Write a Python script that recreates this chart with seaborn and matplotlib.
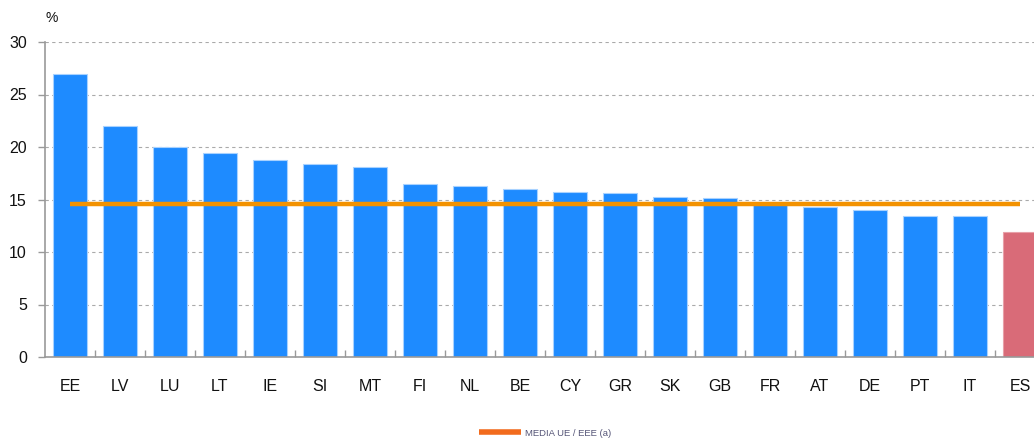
import matplotlib
matplotlib.use("Agg")
import matplotlib.pyplot as plt
import seaborn as sns
import pandas as pd
import numpy as np
from matplotlib.lines import Line2D

countries = ["EE", "LV", "LU", "LT", "IE", "SI", "MT", "FI", "NL", "BE",
             "CY", "GR", "SK", "GB", "FR", "AT", "DE", "PT", "IT", "ES"]
values = [27.0, 22.0, 20.0, 19.4, 18.8, 18.4, 18.1, 16.5, 16.3, 16.0,
          15.7, 15.6, 15.2, 15.1, 14.7, 14.3, 14.0, 13.4, 13.4, 11.9]
median_value = 14.6
legend_label = "MEDIA UE / EEE (a)"
y_ticks = [0, 5, 10, 15, 20, 25, 30]

blue = "#1E8BFF"
red = "#D96B78"
colors = [red if c == "ES" else blue for c in countries]
edges = ["#E8A0A8" if c == "ES" else "#A8D2FF" for c in countries]

sns.set_style("white")
plt.rcParams["font.family"] = ["Liberation Sans", "DejaVu Sans"]

df = pd.DataFrame({"country": countries, "value": values})

W, H = 1034, 441
fig = plt.figure(figsize=(W / 100, H / 100), dpi=100)
ax = fig.add_axes([45 / W, (H - 357) / H, (1045 - 45) / W, (357 - 42) / H])

sns.barplot(data=df, x="country", y="value", hue="country", palette=colors,
            legend=False, width=0.68, ax=ax, saturation=1)
for patch, ec in zip(ax.patches, edges):
    patch.set_edgecolor(ec)
    patch.set_linewidth(0.8)

ax.plot([countries[0], countries[-1]], [median_value, median_value],
        color="#F39200", lw=3.2, solid_capstyle="butt", zorder=5)

ax.set_ylim(0, 30)
ax.set_xlim(-0.5, len(countries) - 0.5)
ax.set_yticks(y_ticks)
ax.yaxis.grid(True, linestyle=(0, (3, 3)), color="#AAAAAA", lw=0.8)
ax.set_axisbelow(True)
ax.set_xlabel("")
ax.set_ylabel("")

for s in ["top", "right"]:
    ax.spines[s].set_visible(False)
for s in ["left", "bottom"]:
    ax.spines[s].set_color("#999999")
    ax.spines[s].set_linewidth(1.2)

ax.tick_params(axis="y", which="major", left=True, length=5, width=1,
               color="#999999", labelsize=11.5, pad=8, labelcolor="#111111")
ax.tick_params(axis="x", which="major", bottom=False, labelsize=11.5, pad=12,
               labelcolor="#111111")
ax.set_xticks(np.arange(len(countries) - 1) + 0.5, minor=True)
ax.tick_params(axis="x", which="minor", bottom=True, length=5, width=1,
               color="#999999", direction="in")

fig.text(46 / W, 1 - 18 / H, "%", fontsize=10, ha="left", va="center",
         color="#111111")

handle = Line2D([0], [0], color="#F26B1D", lw=4, solid_capstyle="butt")
fig.legend([handle], [legend_label], loc="center", bbox_to_anchor=(545 / W, 1 - 433 / H),
           frameon=False, fontsize=6.8, handlelength=4.5, handletextpad=0.4,
           labelcolor="#555577")

fig.savefig("out.png", dpi=100)
